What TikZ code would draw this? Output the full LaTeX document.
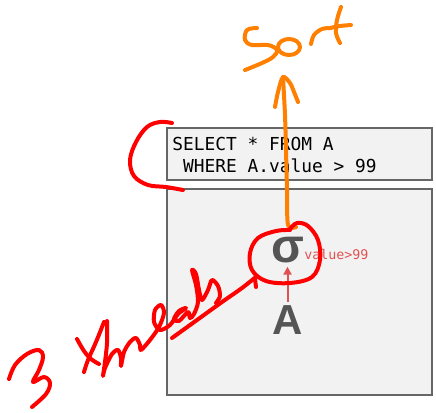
\documentclass[tikz,border=0pt]{standalone}
\usepackage{fontspec}
\setmainfont{Liberation Sans}
\setmonofont{DejaVu Sans Mono}
\usetikzlibrary{arrows.meta}
\definecolor{boxgray}{HTML}{666666}
\definecolor{boxfill}{HTML}{F2F2F2}
\definecolor{opgray}{HTML}{555555}
\definecolor{predred}{HTML}{E05252}
\definecolor{inkred}{HTML}{FF0000}
\definecolor{inkorange}{HTML}{FF8000}
\begin{document}
\begin{tikzpicture}[x=0.75pt, y=-0.75pt,
    box/.style={draw=boxgray, fill=boxfill, line width=1.5pt, minimum width=198.75pt, inner sep=0pt},
    op/.style={text=opgray, font=\bfseries, inner sep=2.25pt},
    redpen/.style={draw=inkred, line width=3pt, line cap=round, line join=round},
    orangepen/.style={draw=inkorange, line width=3pt, line cap=round, line join=round}]
    \useasboundingbox (0,0) rectangle (436,412);

    % 1. Query box and plan box
    \node[box, minimum height=39pt] (sqlbox) at (299.5,154) {};
    \node[box, minimum height=154.5pt] (planbox) at (299.5,292) {};
    \node[anchor=north west, inner sep=0pt, align=left,
          font=\ttfamily\fontsize{13.4}{16.5}\selectfont] (query) at (172,136.5)
        {SELECT * FROM A\\\hphantom{W}WHERE A.value > 99};

    % 2. Operators
    \node[op, font=\fontsize{36}{36}\selectfont\bfseries] (sigma) at (287.5,250.5) {σ};
    \node[op, font=\fontsize{31.5}{32}\selectfont\bfseries] (A) at (287.5,320) {A};
    \node[anchor=west, inner sep=0pt, text=predred,
          font=\ttfamily\fontsize{10}{12}\selectfont] (cond) at (304,254.5) {value>99};
    \draw[predred, line width=1.5pt, -{Triangle[length=6pt, width=6pt]}] (A) -- (sigma);

    % 3. Orange ink: arrow up to "Sort"
    \coordinate (sorttip) at (283,77);
    \draw[orangepen] plot[smooth, tension=0.5] coordinates
        {(296,227) (288,225) (287,190) (286,150) (285,115) (sorttip)};
    \draw[orangepen] plot[smooth, tension=0.5] coordinates
        {(275,107) (278,92) (sorttip) (290,83) (294,92) (298,102)};
    \draw[orangepen] plot[smooth, tension=0.6] coordinates
        {(257,28) (247,30) (245,40) (252,45) (268,45) (277,50) (273,57) (262,63) (245,70)};
    \draw[orangepen] (289,47) ellipse[x radius=11, y radius=8];
    \draw[orangepen] plot[smooth, tension=0.6] coordinates
        {(311,44) (314,35) (322,29) (331,28)};
    \draw[orangepen] plot[smooth, tension=0.6] coordinates
        {(341,7) (337,20) (336,33) (340,43)};
    \draw[orangepen] plot[smooth, tension=0.6] coordinates
        {(330,28) (340,26) (351,25)};

    % 4. Red ink: bracket, circle and "3 threads"
    \draw[redpen] plot[smooth, tension=0.6] coordinates
        {(172,123) (160,122) (147,127) (136,142) (130,160) (134,176) (148,185) (166,187) (183,190)};
    \draw[redpen] plot[smooth, tension=0.6] coordinates
        {(290,230) (276,231) (258,238) (250,253) (252,270) (266,281) (290,283)
         (312,277) (320,260) (318,240) (308,226) (297,223) (290,229)};
    \draw[redpen] plot[smooth, tension=0.6] coordinates
        {(9,379) (15,365) (27,354) (39,350) (43,357) (39,370) (33,382)
         (44,377) (50,383) (46,394) (32,407)};
    \draw[redpen] plot[smooth, tension=0.6] coordinates
        {(77,339) (84,351) (91,359) (99,364)};
    \draw[redpen] plot[smooth, tension=0.6] coordinates
        {(104,322) (96,342) (88,360) (84,372)};
    \draw[redpen] plot[smooth, tension=0.5] coordinates
        {(107,321) (107,343) (105,362) (103,376) (105,368) (112,354) (118,350) (121,358)
         (121,366) (124,352) (130,342) (136,338) (140,345) (141,350) (150,340) (159,327)
         (164,313) (161,305) (155,310) (154,322) (160,330) (170,325) (178,314) (186,308)
         (179,311) (174,319) (179,321) (188,312) (190,318) (194,314) (198,302) (196,285)
         (192,270) (196,274) (199,290) (202,300) (208,290) (212,280) (218,286) (220,296)
         (216,303)};
    \draw[redpen] plot[smooth, tension=0.6] coordinates
        {(172,338) (197,320) (222,302) (242,288) (257,276)};
    \draw[redpen] (255,279) -- (256,287);
\end{tikzpicture}
\end{document}
